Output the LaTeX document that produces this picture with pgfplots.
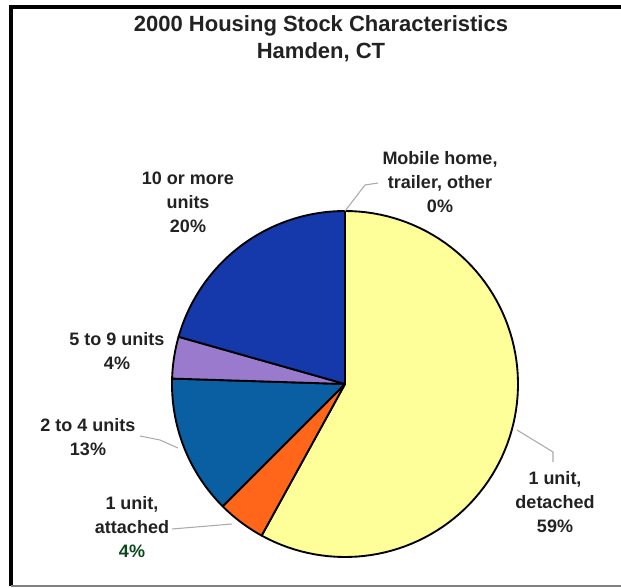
\documentclass[border=0pt]{standalone}
\usepackage{pgfplots}
\pgfplotsset{compat=1.18}
\usepackage{fontspec}
\setmainfont{Liberation Sans}

\definecolor{cdet}{HTML}{FFFF99}
\definecolor{catt}{HTML}{FF6619}
\definecolor{ctwo}{HTML}{0A5EA2}
\definecolor{cfive}{HTML}{9A7ACC}
\definecolor{cten}{HTML}{1538AA}
\definecolor{txt}{HTML}{222222}
\definecolor{lead}{HTML}{AAAAAA}

% shares in percent, clockwise from 12 o'clock
\def\pDet{58.0}
\def\pAtt{4.5}
\def\pTwo{13.0}
\def\pFive{3.9}
\def\pTen{20.6}
\def\pMob{0.0}

\pgfmathsetmacro{\aA}{90}
\pgfmathsetmacro{\aB}{\aA-3.6*\pDet}
\pgfmathsetmacro{\aC}{\aB-3.6*\pAtt}
\pgfmathsetmacro{\aD}{\aC-3.6*\pTwo}
\pgfmathsetmacro{\aE}{\aD-3.6*\pFive}
\pgfmathsetmacro{\aF}{\aE-3.6*\pTen}

% one wedge: colour, lower angle, upper angle
\newcommand{\slice}[3]{%
  \addplot[fill=#1, draw=black, line width=1.4pt, line join=round,
    domain=#2:#3, samples=90, variable=\t]
    ({345+173*cos(t)}, {384-173*sin(t)}) -- (axis cs:345,384) -- cycle;}

\begin{document}
\begin{tikzpicture}
\begin{axis}[
  width=465.75pt, height=441pt, scale only axis,
  xmin=0, xmax=621, ymin=0, ymax=588, y dir=reverse,
  hide axis, clip=false,
]
% frame
\addplot[black, line width=2.5pt] coordinates {(11,586) (11,7) (621,7)};
\addplot[gray, line width=1.5pt] coordinates {(11,586) (621,586)};

\slice{cdet}{\aB}{\aA}
\slice{catt}{\aC}{\aB}
\slice{ctwo}{\aD}{\aC}
\slice{cfive}{\aE}{\aD}
\slice{cten}{\aF}{\aE}

% leader lines
\addplot[lead, line width=0.8pt] coordinates {(345,211) (365,185) (378,183)};
\addplot[lead, line width=0.8pt] coordinates {(140,436) (160,440) (178,448)};
\addplot[lead, line width=0.8pt] coordinates {(172,529) (232,524)};
\addplot[lead, line width=0.8pt] coordinates {(517,430) (553,452) (553,462)};

\node[align=center, text=txt, font=\fontsize{16.5}{20}\selectfont\bfseries]
  at (axis cs:321,38.5) {2000 Housing Stock Characteristics\\Hamden, CT};

\begin{scope}[every node/.style={align=center, text=txt,
    font=\fontsize{13.5}{18}\selectfont\bfseries}]
\node at (axis cs:188,202) {10 or more\\units\\20\%};
\node at (axis cs:440,182) {Mobile home,\\trailer, other\\0\%};
\node at (axis cs:117,351.5) {5 to 9 units\\4\%};
\node at (axis cs:88,437.5) {2 to 4 units\\13\%};
\node at (axis cs:132,527) {1 unit,\\attached\\\textcolor[HTML]{0B4A1E}{4\%}};
\node at (axis cs:555,502) {1 unit,\\detached\\59\%};
\end{scope}
\end{axis}
\pgfresetboundingbox
\path (current axis.south west) rectangle (current axis.north east);
\end{tikzpicture}
\end{document}
